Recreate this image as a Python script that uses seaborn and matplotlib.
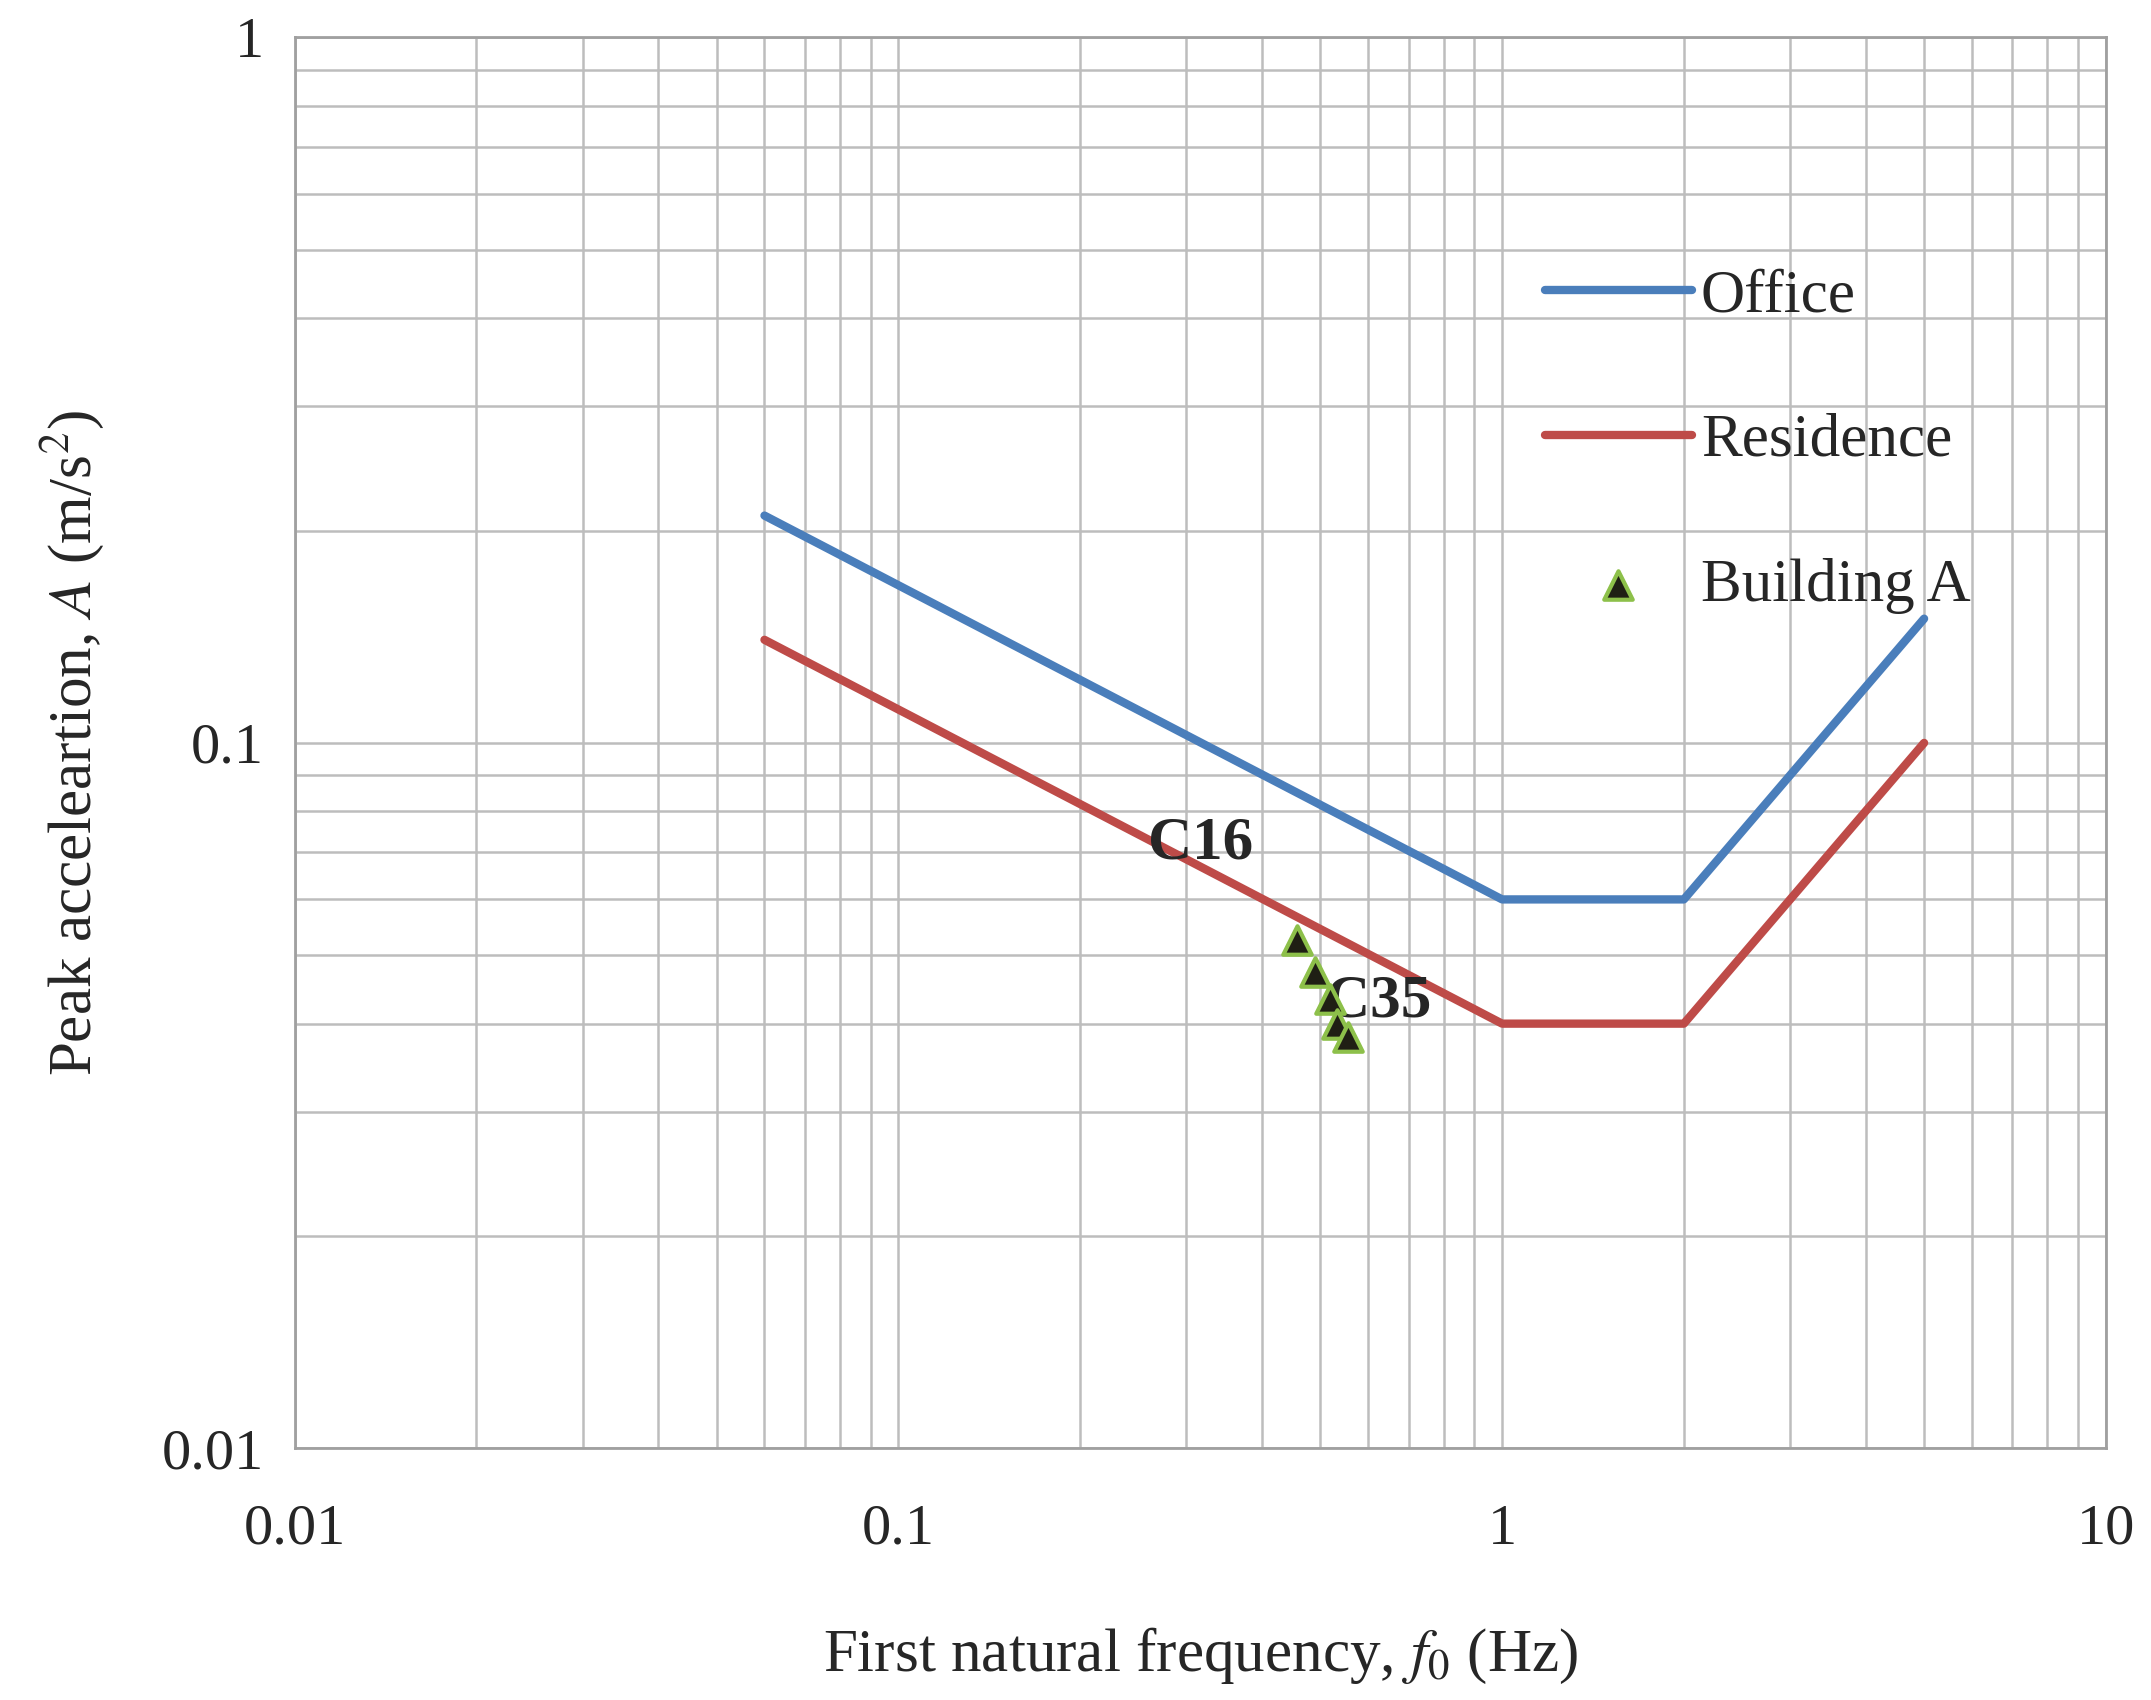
import numpy as np
import pandas as pd
import matplotlib
matplotlib.use("Agg")
import matplotlib.pyplot as plt
import seaborn as sns
from matplotlib.ticker import FixedLocator, FixedFormatter, LogLocator, NullFormatter

sns.set_theme(style="white")
plt.rcParams["font.family"] = ["Liberation Serif", "DejaVu Serif"]
plt.rcParams["mathtext.fontset"] = "stix"

# limit curves
limit_freq = [0.06, 1, 2, 5]
office_acc = [0.21, 0.06, 0.06, 0.15]
residence_acc = [0.14, 0.04, 0.04, 0.10]

# Building A measurements
bldg_freq = [0.457, 0.490, 0.518, 0.532, 0.555]
bldg_acc = [0.0526, 0.0474, 0.0433, 0.0399, 0.0383]

ticks = [0.01, 0.1, 1, 10]
tick_labels = ["0.01", "0.1", "1", "10"]
ytick_labels = ["0.01", "0.1", "1"]

fig = plt.figure(figsize=(21.51, 17), dpi=100)
ax = fig.add_axes([0.137, 0.148, 0.842, 0.830])

sns.lineplot(x=limit_freq, y=office_acc, ax=ax, color="#4a7ebb", lw=6, label="Office")
sns.lineplot(x=limit_freq, y=residence_acc, ax=ax, color="#be4b48", lw=6, label="Residence")
sns.scatterplot(x=bldg_freq, y=bldg_acc, ax=ax, marker="^", s=420, color="#1f1f14",
                edgecolor="#8dc04a", linewidth=3, label="Building A", zorder=5)

ax.set_xscale("log")
ax.set_yscale("log")
ax.set_xlim(0.01, 10)
ax.set_ylim(0.01, 1)

ax.xaxis.set_major_locator(FixedLocator(ticks))
ax.xaxis.set_major_formatter(FixedFormatter(tick_labels))
ax.yaxis.set_major_locator(FixedLocator(ticks[:3]))
ax.yaxis.set_major_formatter(FixedFormatter(ytick_labels))
for axis in (ax.xaxis, ax.yaxis):
    axis.set_minor_locator(LogLocator(base=10, subs=np.arange(2, 10)))
    axis.set_minor_formatter(NullFormatter())

ax.grid(True, which="both", color="#bdbdbd", lw=1.8)
ax.tick_params(which="both", length=0, labelsize=42)
ax.tick_params(axis="x", pad=40)
ax.tick_params(axis="y", pad=22)
for s in ax.spines.values():
    s.set_color("#a0a0a0")
    s.set_linewidth(2)

ax.set_xlabel("First natural frequency, $f_0$ (Hz)", fontsize=44, labelpad=50)
ax.set_ylabel("Peak acceleartion, $A$ (m/s$^2$)", fontsize=44, labelpad=40)

ax.text(0.316, 0.072, "C16", fontsize=44, fontweight="bold", ha="center", va="center")
ax.text(0.624, 0.043, "C35", fontsize=44, fontweight="bold", ha="center", va="center")

leg = ax.legend(loc="upper left", bbox_to_anchor=(0.66, 0.875), frameon=False,
                fontsize=44, labelspacing=1.45, handlelength=2.4, handletextpad=0.15)

fig.savefig("out.png", dpi=100)
